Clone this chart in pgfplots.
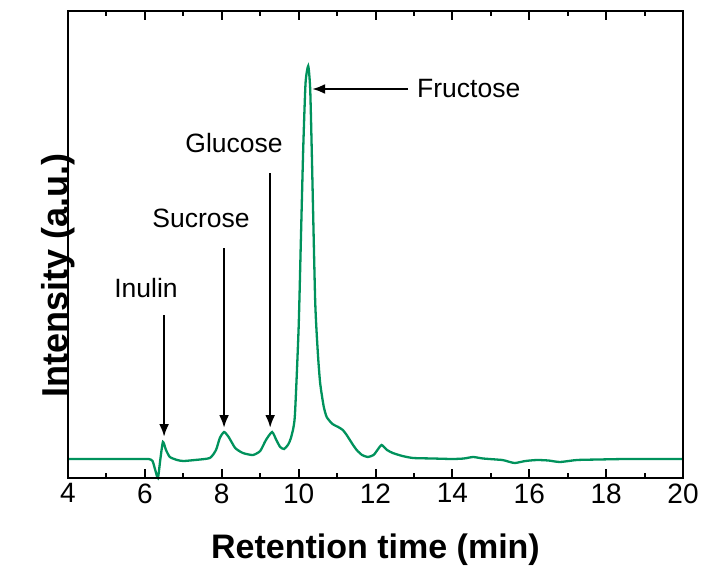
\documentclass[border=0pt]{standalone}
\usepackage{pgfplots}
\pgfplotsset{compat=1.18}
\usetikzlibrary{arrows.meta}
\usepackage{fontspec}
\setmainfont{Liberation Sans}
\definecolor{cgreen}{RGB}{0,146,92}
\begin{document}
\begin{tikzpicture}
\begin{axis}[
  scale only axis,
  width=615pt, height=467pt,
  xmin=4, xmax=20, ymin=0, ymax=467,
  xtick={4,6,8,10,12,14,16,18,20},
  minor xtick={5,7,9,11,13,15,17,19},
  ytick=\empty,
  tick align=inside,
  major tick length=9pt,
  minor tick length=5pt,
  major x tick style={line width=2pt, black},
  minor x tick style={line width=2pt, black},
  axis line style={line width=2pt, black},
  /pgf/number format/assume math mode=true,
  xticklabel style={font=\fontsize{28}{32}\selectfont, yshift=-2pt},
  xlabel={\textbf{Retention time (min)}},
  ylabel={\textbf{Intensity (a.u.)}},
  every axis x label/.style={at={(rel axis cs:0.5,0)}, anchor=base, yshift=-80pt, font=\fontsize{34}{40}\selectfont},
  every axis y label/.style={at={(rel axis cs:0,0.5)}, rotate=90, anchor=base, xshift=-31pt, font=\fontsize{36}{42}\selectfont},
  clip=false,
]
\addplot[cgreen, line width=2.3pt, smooth, tension=0.35] coordinates {
(4.0,19) (5.0,19) (5.8,19) (6.1,19) (6.2,17) (6.27,8) (6.34,0) (6.4,18) (6.47,36) (6.55,28) (6.65,21) (6.84,18) (7.0,17) (7.3,18) (7.69,20) (7.85,28) (7.95,40) (8.06,46) (8.18,41) (8.35,30) (8.55,25) (8.81,23) (9.0,27) (9.15,38) (9.31,46) (9.42,38) (9.52,31) (9.62,29) (9.72,33) (9.8,40) (9.9,61) (10.0,150) (10.06,240) (10.12,330) (10.18,395) (10.25,412) (10.3,390) (10.34,330) (10.43,178) (10.5,125) (10.56,95) (10.65,72) (10.73,61) (10.88,54) (11.03,51) (11.15,48) (11.25,43) (11.4,34) (11.51,28) (11.65,23) (11.8,21) (11.95,23) (12.05,28) (12.16,33) (12.3,28) (12.45,25) (12.7,22) (12.98,20) (13.5,19.5) (14.0,19) (14.3,19.5) (14.54,21) (14.8,19.5) (15.3,18) (15.45,16.5) (15.63,15) (15.9,17) (16.2,18) (16.5,17.5) (16.8,16) (17.24,18) (17.8,18.5) (18.5,19) (19.3,19) (20.0,19)
};
\pgfplotsinvokeforeach{6,8,10,12,14,16,18}{
  \draw[line width=2pt, black] (axis cs:#1,0) -- (axis cs:#1,9);
  \draw[line width=2pt, black] (axis cs:#1,467) -- (axis cs:#1,458);
}
\pgfplotsinvokeforeach{5,7,9,11,13,15,17,19}{
  \draw[line width=2pt, black] (axis cs:#1,0) -- (axis cs:#1,5);
  \draw[line width=2pt, black] (axis cs:#1,467) -- (axis cs:#1,462);
}
\draw[line width=2pt, black] (rel axis cs:0,0) rectangle (rel axis cs:1,1);
\draw[-{Latex[length=13pt,width=10pt]}, line width=2.4pt] (axis cs:6.5,163) -- (axis cs:6.5,41);
\draw[-{Latex[length=13pt,width=10pt]}, line width=2.4pt] (axis cs:8.06,230) -- (axis cs:8.06,50);
\draw[-{Latex[length=13pt,width=10pt]}, line width=2.4pt] (axis cs:9.26,305) -- (axis cs:9.26,50);
\draw[-{Latex[length=13pt,width=10pt]}, line width=2.4pt] (axis cs:12.85,389) -- (axis cs:10.35,389);
\node[font=\fontsize{26.5}{30}\selectfont] at (axis cs:6.03,190) {Inulin};
\node[font=\fontsize{26.5}{30}\selectfont] at (axis cs:7.46,260) {Sucrose};
\node[font=\fontsize{26.5}{30}\selectfont] at (axis cs:8.32,335) {Glucose};
\node[font=\fontsize{26.5}{30}\selectfont, anchor=west, inner sep=0pt] at (axis cs:13.08,389) {Fructose};
\path (rel axis cs:0,0) ++(-68pt,-88pt) coordinate (bl);
\path (rel axis cs:1,1) ++(21pt,11pt) coordinate (tr);
\end{axis}
\pgfresetboundingbox
\path[use as bounding box] (bl) rectangle (tr);
\end{tikzpicture}
\end{document}
